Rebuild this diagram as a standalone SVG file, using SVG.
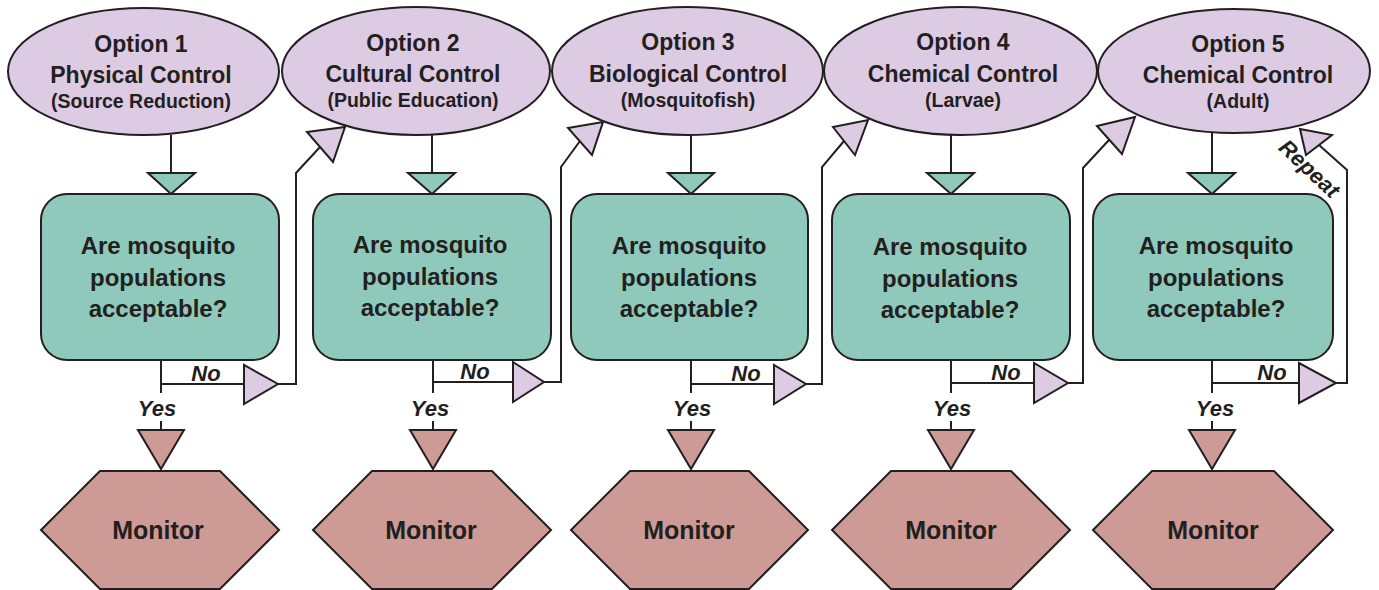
<svg xmlns="http://www.w3.org/2000/svg" width="1379" height="590" viewBox="0 0 1379 590">
<style>
.ell{fill:#dccbe3;stroke:#231f20;stroke-width:2}
.box{fill:#8ec9bc;stroke:#231f20;stroke-width:2}
.hex{fill:#cd9a95;stroke:#231f20;stroke-width:2}
.ln{fill:none;stroke:#231f20;stroke-width:2;stroke-linejoin:miter}
.tl{fill:#dccbe3;stroke:#231f20;stroke-width:2;stroke-linejoin:miter}
.tt{fill:#8ec9bc;stroke:#231f20;stroke-width:2;stroke-linejoin:miter}
.ts{fill:#cd9a95;stroke:#231f20;stroke-width:2;stroke-linejoin:miter}
text{font-family:"Liberation Sans",Arial,sans-serif;font-weight:bold;fill:#231f20;text-anchor:middle}
.t1{font-size:23px}
.t2{font-size:19.5px}
.tb{font-size:24px}
.tm{font-size:25px}
.lab{font-size:22px;font-style:italic}
</style>
<rect width="1379" height="590" fill="#ffffff"/>

<g id="connectors">
  <path class="ln" d="M171,135V173M432,135V173M691,135V173M951,135V173M1212,133V173"/>
  <path class="ln" d="M161,360V393M161,421V430M433,360V393M433,421V430M691,360V393M691,421V430M951,360V393M951,421V430M1212,360V393M1212,421V430"/>
  <path class="ln" d="M161,384H244M278,384H296V173L320,147"/>
  <path class="ln" d="M433,382H513M544,382H561V167L580,141"/>
  <path class="ln" d="M691,384H774M806,384H822V167L844,141"/>
  <path class="ln" d="M951,383H1034M1068,383H1083V168L1109,140"/>
  <path class="ln" d="M1212,383H1299M1336,383H1347V170L1319,145"/>
  <polygon class="tt" points="148,173 195,173 171,194"/>
  <polygon class="tt" points="408,173 455,173 432,194"/>
  <polygon class="tt" points="668,173 714,173 691,194"/>
  <polygon class="tt" points="927,173 974,173 951,194"/>
  <polygon class="tt" points="1188,173 1235,173 1212,194"/>
  <polygon class="ts" points="138,430 184,430 161,469"/>
  <polygon class="ts" points="410,430 456,430 433,469"/>
  <polygon class="ts" points="668,430 714,430 691,469"/>
  <polygon class="ts" points="928,430 974,430 951,469"/>
  <polygon class="ts" points="1189,430 1235,430 1212,469"/>
  <polygon class="tl" points="244,365 244,404 278,384"/>
  <polygon class="tl" points="513,362 513,402 544,382"/>
  <polygon class="tl" points="774,365 774,404 806,384"/>
  <polygon class="tl" points="1034,363 1034,403 1068,383"/>
  <polygon class="tl" points="1299,363 1299,403 1336,383"/>
  <polygon class="tl" points="307,132 345,127 333,162"/>
  <polygon class="tl" points="568,128 603,122 592,155"/>
  <polygon class="tl" points="833,127 868,120 855,155"/>
  <polygon class="tl" points="1097,126 1135,117 1122,154"/>
  <polygon class="tl" points="1300,129 1332,135 1306,155"/>
  <text class="lab" x="206" y="381">No</text>
  <text class="lab" x="475" y="379">No</text>
  <text class="lab" x="746" y="381">No</text>
  <text class="lab" x="1006" y="380">No</text>
  <text class="lab" x="1272" y="380">No</text>
  <text class="lab" x="157" y="416">Yes</text>
  <text class="lab" x="430" y="416">Yes</text>
  <text class="lab" x="692" y="416">Yes</text>
  <text class="lab" x="952" y="416">Yes</text>
  <text class="lab" x="1215" y="416">Yes</text>
  <text class="lab" x="1309" y="176" transform="rotate(43 1309 169)">Repeat</text>
</g>

<g id="option1">
  <ellipse class="ell" cx="143.5" cy="71.5" rx="135.5" ry="63.5"/>
  <text class="t1" x="141" y="52">Option 1</text>
  <text class="t1" x="141" y="83">Physical Control</text>
  <text class="t2" x="141" y="108">(Source Reduction)</text>
</g>
<g id="option2">
  <ellipse class="ell" cx="416" cy="71" rx="134" ry="64"/>
  <text class="t1" x="413" y="51">Option 2</text>
  <text class="t1" x="413" y="82">Cultural Control</text>
  <text class="t2" x="413" y="107">(Public Education)</text>
</g>
<g id="option3">
  <ellipse class="ell" cx="687.5" cy="71" rx="135.5" ry="64"/>
  <text class="t1" x="688" y="50">Option 3</text>
  <text class="t1" x="688" y="82">Biological Control</text>
  <text class="t2" x="688" y="107">(Mosquitofish)</text>
</g>
<g id="option4">
  <ellipse class="ell" cx="960.5" cy="71" rx="136.5" ry="64"/>
  <text class="t1" x="963" y="50">Option 4</text>
  <text class="t1" x="963" y="82">Chemical Control</text>
  <text class="t2" x="963" y="107">(Larvae)</text>
</g>
<g id="option5">
  <ellipse class="ell" cx="1234" cy="71" rx="136" ry="62"/>
  <text class="t1" x="1238" y="52">Option 5</text>
  <text class="t1" x="1238" y="83">Chemical Control</text>
  <text class="t2" x="1238" y="108">(Adult)</text>
</g>

<g id="decision1">
  <rect class="box" x="41" y="194" width="238" height="166" rx="26"/>
  <text class="tb" x="158" y="254">Are mosquito</text>
  <text class="tb" x="158" y="286">populations</text>
  <text class="tb" x="158" y="317">acceptable?</text>
</g>
<g id="decision2">
  <rect class="box" x="313" y="194" width="238" height="166" rx="26"/>
  <text class="tb" x="430" y="253">Are mosquito</text>
  <text class="tb" x="430" y="285">populations</text>
  <text class="tb" x="430" y="316">acceptable?</text>
</g>
<g id="decision3">
  <rect class="box" x="571" y="194" width="237" height="166" rx="26"/>
  <text class="tb" x="689" y="254">Are mosquito</text>
  <text class="tb" x="689" y="286">populations</text>
  <text class="tb" x="689" y="317">acceptable?</text>
</g>
<g id="decision4">
  <rect class="box" x="832" y="194" width="238" height="166" rx="26"/>
  <text class="tb" x="950" y="255">Are mosquito</text>
  <text class="tb" x="950" y="287">populations</text>
  <text class="tb" x="950" y="318">acceptable?</text>
</g>
<g id="decision5">
  <rect class="box" x="1093" y="194" width="240" height="166" rx="26"/>
  <text class="tb" x="1216" y="254">Are mosquito</text>
  <text class="tb" x="1216" y="286">populations</text>
  <text class="tb" x="1216" y="317">acceptable?</text>
</g>

<g id="monitor1">
  <polygon class="hex" points="41,530 100,471 220,471 279,530 220,589 100,589"/>
  <text class="tm" x="158" y="539">Monitor</text>
</g>
<g id="monitor2">
  <polygon class="hex" points="313,530 372,471 492,471 551,530 492,589 372,589"/>
  <text class="tm" x="431" y="539">Monitor</text>
</g>
<g id="monitor3">
  <polygon class="hex" points="571,530 630,471 749,471 808,530 749,589 630,589"/>
  <text class="tm" x="689" y="539">Monitor</text>
</g>
<g id="monitor4">
  <polygon class="hex" points="832,530 891,471 1011,471 1070,530 1011,589 891,589"/>
  <text class="tm" x="951" y="539">Monitor</text>
</g>
<g id="monitor5">
  <polygon class="hex" points="1093,530 1152,471 1274,471 1333,530 1274,589 1152,589"/>
  <text class="tm" x="1213" y="539">Monitor</text>
</g>
</svg>
